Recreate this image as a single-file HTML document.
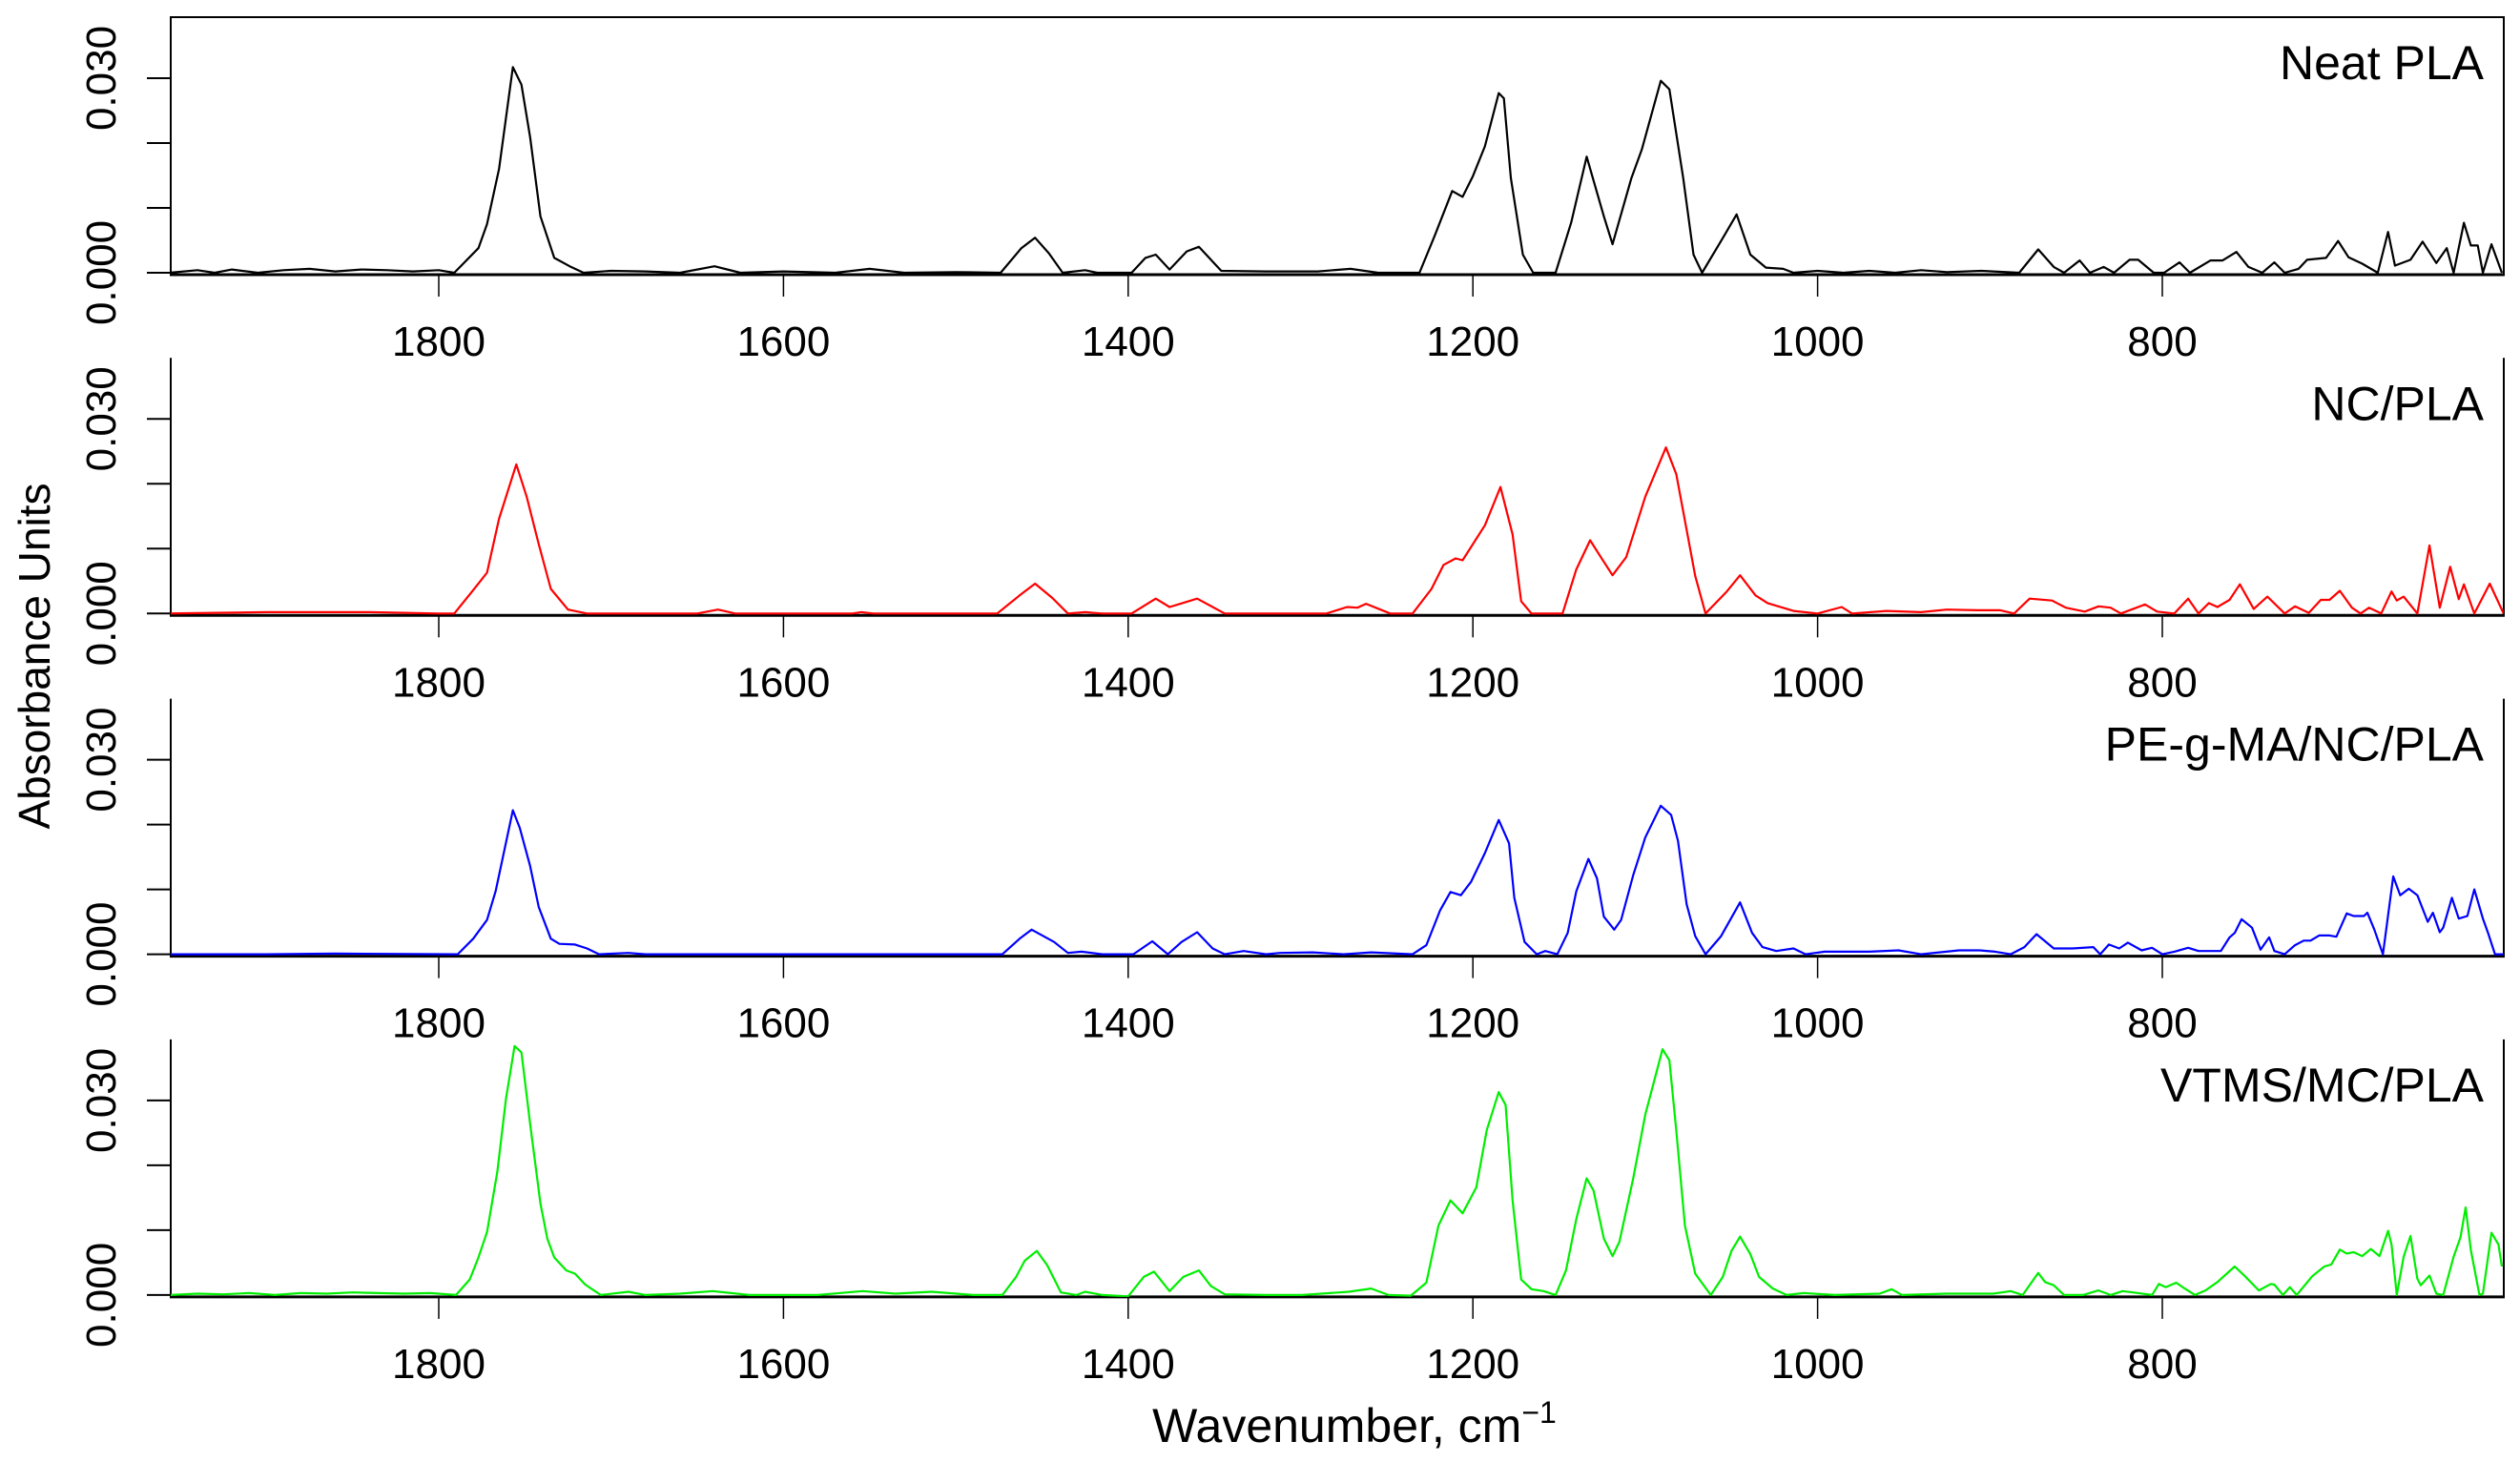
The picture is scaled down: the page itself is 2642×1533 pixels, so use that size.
<!DOCTYPE html>
<html><head><meta charset="utf-8"><style>
html,body{margin:0;padding:0;background:#fff;}
svg{display:block;font-family:"Liberation Sans",Arial,sans-serif;}
</style></head><body>
<svg id="chart" width="2642" height="1533" viewBox="0 0 2642 1533" xmlns="http://www.w3.org/2000/svg">
<rect width="2642" height="1533" fill="#fff"/>
<g id="axes"></g>
<g id="series"></g>
<text transform="translate(52,688) rotate(-90)" text-anchor="middle" font-size="46">Absorbance Units</text>
<text x="1420" y="1512" text-anchor="middle" font-size="50">Wavenumber, cm<tspan font-size="32" dy="-20">−1</tspan></text>
</svg>
<script>
const xTicks = [1800, 1600, 1400, 1200, 1000, 800];
const yTicks = [0, 0.01, 0.02, 0.03];
const yTickLabels = ["0.000", "", "", "0.030"];
const panelTitles = ["Neat PLA", "NC/PLA", "PE-g-MA/NC/PLA", "VTMS/MC/PLA"];
const seriesColors = ["#000000", "#ff0000", "#0000ff", "#00ee00"];

const blackWn = [1956,1940,1930,1920,1905,1890,1875,1860,1845,1830,1815,1800,1791,1777,1772,1765,1757,1752,1747,1741,1733,1724,1716,1700,1680,1660,1640,1625,1600,1570,1550,1530,1500,1474,1462,1454,1446,1438,1425,1418,1398,1390,1384,1376,1366,1359,1346,1320,1290,1271,1255,1231,1222,1212,1206,1200,1193,1185,1182,1178,1171,1165,1152,1143,1134,1124,1119,1108,1102,1091,1086,1078,1072,1067,1054,1047,1039,1030,1020,1014,1000,985,970,955,940,925,905,883,872,863,857,848,842,834,828,819,814,805,799,790,784,772,765,757,750,742,735,729,721,716,705,698,692,684,675,669,665,656,649,641,635,631,625,621,617,614,609,603];
const blackAbs = [0,0.0004,0,0.0005,0,0.0004,0.0006,0.0002,0.0005,0.0004,0.0002,0.0004,0,0.0038,0.0075,0.016,0.0317,0.029,0.0209,0.0087,0.0023,0.001,0,0.0003,0.0002,0,0.001,0,0.0002,0,0.0006,0,0.0001,0,0.0038,0.0054,0.003,0,0.0004,0,0,0.0023,0.0028,0.0005,0.0033,0.004,0.0003,0.0002,0.0002,0.0006,0,0,0.0058,0.0126,0.0117,0.0149,0.0195,0.0277,0.0269,0.0146,0.0028,0,0,0.0077,0.0179,0.0087,0.0044,0.0146,0.019,0.0296,0.0283,0.0146,0.0028,0,0.0058,0.009,0.0028,0.0008,0.0006,0,0.0003,0,0.0003,0,0.0004,0.0001,0.0003,0,0.0036,0.0009,0,0.0019,0,0.0009,0,0.002,0.002,0,0,0.0016,0,0.0019,0.0019,0.0032,0.0009,0,0.0016,0,0.0006,0.002,0.0023,0.0049,0.0024,0.0014,0,0.0063,0.0011,0.002,0.0048,0.0015,0.0038,0,0.0077,0.0042,0.0042,0,0.0044,0];

const redWn = [1956,1900,1860,1840,1800,1791,1780,1772,1765,1755,1749,1742,1735,1725,1714,1650,1638,1628,1560,1555,1548,1476,1463,1454,1444,1435,1425,1415,1398,1384,1376,1360,1344,1285,1273,1267,1262,1248,1235,1224,1217,1210,1206,1193,1184,1177,1172,1166,1148,1140,1132,1127,1119,1111,1100,1088,1082,1071,1065,1053,1045,1036,1029,1014,1000,986,980,960,940,925,907,894,886,877,864,856,845,837,830,824,818,810,803,793,785,779,773,768,761,755,747,739,729,723,715,708,703,697,690,685,680,673,667,664,660,652,645,639,633,628,625,619,610,602];
const redAbs = [0,0.0002,0.0002,0.0002,0,0,0.0036,0.0063,0.0146,0.023,0.018,0.0107,0.0038,0.0006,0,0,0.0006,0,0,0.0002,0,0,0.0028,0.0046,0.0024,0,0.0002,0,0,0.0023,0.001,0.0023,0,0,0.001,0.0009,0.0015,0,0,0.0038,0.0075,0.0085,0.0082,0.0136,0.0195,0.0122,0.0019,0,0,0.0068,0.0113,0.0092,0.0059,0.0087,0.018,0.0256,0.0215,0.0058,0,0.0033,0.0059,0.0028,0.0016,0.0004,0,0.001,0,0.0004,0.0002,0.0006,0.0005,0.0005,0,0.0023,0.002,0.0009,0.0003,0.0011,0.0009,0,0.0006,0.0014,0.0003,0,0.0023,0,0.0016,0.001,0.0021,0.0045,0.0007,0.0026,0,0.0011,0.0001,0.0021,0.0021,0.0035,0.0009,0,0.0009,0,0.0034,0.002,0.0026,0,0.0105,0.0009,0.0072,0.0022,0.0045,0,0.0046,0];

const blueWn = [1956,1900,1860,1789,1780,1772,1767,1757,1753,1747,1742,1735,1730,1721,1714,1707,1690,1680,1473,1463,1456,1443,1435,1427,1415,1397,1386,1377,1369,1360,1351,1344,1333,1320,1312,1293,1275,1259,1235,1227,1219,1213,1207,1201,1193,1185,1179,1176,1170,1163,1158,1151,1145,1140,1133,1128,1124,1118,1114,1107,1100,1091,1085,1081,1076,1071,1065,1056,1045,1038,1032,1024,1014,1007,996,970,953,940,918,906,897,888,880,873,863,852,840,836,831,825,820,812,806,800,793,785,779,766,761,758,754,748,743,738,735,729,723,718,714,709,703,699,693,689,683,681,677,672,666,662,657,652,646,643,639,637,632,628,623,619,614,611,607,602];
const blueAbs = [0,0,0.0001,0,0.0024,0.0053,0.0097,0.0222,0.0195,0.0136,0.0073,0.0024,0.0016,0.0015,0.0009,0,0.0002,0,0,0.0024,0.0038,0.0019,0.0002,0.0004,0,0,0.002,0,0.0019,0.0034,0.0009,0,0.0005,0,0.0002,0.0003,0,0.0003,0,0.0014,0.0068,0.0096,0.0091,0.0112,0.0156,0.0207,0.0171,0.0087,0.0019,0,0.0005,0,0.0033,0.0097,0.0147,0.0117,0.0058,0.0038,0.0053,0.0122,0.018,0.0229,0.0215,0.0175,0.0077,0.0028,0,0.0028,0.008,0.0033,0.0011,0.0005,0.0009,0,0.0004,0.0004,0.0006,0,0.0006,0.0006,0.0004,0,0.0011,0.0031,0.0009,0.0009,0.0011,0,0.0015,0.0009,0.0018,0.0006,0.001,0,0.0004,0.001,0.0005,0.0005,0.0026,0.0033,0.0054,0.0041,0.0007,0.0026,0.0005,0,0.0014,0.0021,0.0021,0.0029,0.0029,0.0027,0.0063,0.0059,0.0059,0.0064,0.0038,0,0.012,0.0091,0.0101,0.0091,0.005,0.0064,0.0034,0.0041,0.0087,0.0055,0.0059,0.01,0.0055,0.0033,0,0];

const greenWn = [1956,1940,1925,1910,1895,1880,1865,1850,1835,1820,1805,1790,1782,1777,1772,1766,1761,1756,1752,1747,1741,1737,1733,1726,1721,1715,1706,1690,1680,1660,1641,1620,1580,1554,1535,1514,1490,1473,1465,1460,1453,1447,1439,1430,1425,1415,1400,1391,1385,1376,1368,1359,1352,1344,1320,1299,1272,1259,1249,1236,1227,1220,1213,1206,1198,1192,1185,1181,1177,1172,1166,1159,1152,1146,1140,1134,1130,1124,1119,1115,1107,1100,1090,1086,1082,1077,1071,1062,1055,1050,1045,1039,1034,1026,1018,1008,990,964,957,951,925,898,888,881,872,868,863,857,846,837,830,823,817,806,802,798,792,787,781,775,768,758,752,744,737,735,730,726,722,713,706,702,697,693,689,684,679,674,669,667,664,660,656,652,650,645,641,637,631,627,624,621,616,614,609,605,603];
const greenAbs = [0,0.0002,0.0001,0.0003,0,0.0003,0.0002,0.0004,0.0003,0.0002,0.0003,0,0.0024,0.0058,0.0097,0.019,0.0303,0.0384,0.0374,0.0264,0.0141,0.0087,0.0058,0.0038,0.0033,0.0016,0,0.0005,0,0.0002,0.0006,0,0,0.0006,0.0002,0.0005,0,0,0.0028,0.0053,0.0068,0.0046,0.0004,0,0.0005,0,-0.0002,0.0028,0.0036,0.0006,0.0028,0.0038,0.0014,0.0001,0,0,0.0005,0.001,0,-0.0001,0.0019,0.0107,0.0146,0.0126,0.0166,0.0254,0.0313,0.0293,0.0146,0.0024,0.0009,0.0006,0,0.0038,0.0117,0.018,0.0161,0.0087,0.006,0.0082,0.018,0.0278,0.0379,0.0362,0.0254,0.0107,0.0033,0,0.0028,0.0068,0.009,0.0063,0.0028,0.001,0,0.0003,0,0.0002,0.0009,0,0.0002,0.0002,0.0006,0,0.0034,0.002,0.0015,0,0,0.0007,0,0.0006,0.0004,0,0.0017,0.0012,0.0019,0.001,0,0.0007,0.002,0.0044,0.0029,0.0007,0.0017,0.0016,0,0.0012,0,0.0029,0.0044,0.0047,0.007,0.0064,0.0066,0.006,0.0071,0.006,0.0099,0.0078,0,0.0059,0.0091,0.0025,0.0015,0.003,0.0002,0,0.0059,0.0089,0.0135,0.0069,0,0.0002,0.0096,0.0078,0.0044];

const allWn = [blackWn, redWn, blueWn, greenWn];
const allAbs = [blackAbs, redAbs, blueAbs, greenAbs];
const seriesNames = ["neat-pla-spectrum", "nc-pla-spectrum", "pe-g-ma-nc-pla-spectrum", "vtms-mc-pla-spectrum"];

const NS = "http://www.w3.org/2000/svg";
const plotLeft = 179, plotRight = 2625;
const xScale = wn => 460 + (1800 - wn) * 1.807;
const zeroY = i => 286 + 357.3 * i;
const yScale = (v, i) => zeroY(i) - v * 6800;

const axes = document.getElementById('axes');
const seriesG = document.getElementById('series');
const defs = document.createElementNS(NS, 'defs');
document.getElementById('chart').appendChild(defs);

function mk(tag, attrs, parent) {
  const e = document.createElementNS(NS, tag);
  for (const k in attrs) e.setAttribute(k, attrs[k]);
  parent.appendChild(e);
  return e;
}

for (let i = 0; i < 4; i++) {
  const top = zeroY(i) - 268, bottom = zeroY(i) + 2;
  const g = mk('g', {}, axes);
  
  
  // box
  const left = mk('line', {x1: plotLeft, y1: top, x2: plotLeft, y2: bottom, stroke: '#000', 'stroke-width': 2}, g);
  
  
  const right = mk('line', {x1: plotRight, y1: top, x2: plotRight, y2: bottom, stroke: '#000', 'stroke-width': 2}, g);
  
  
  const bot = mk('line', {x1: plotLeft - 1, y1: bottom, x2: plotRight + 1, y2: bottom, stroke: '#000', 'stroke-width': 3}, g);
  
  
  if (i === 0) {
    const tp = mk('line', {x1: plotLeft - 1, y1: top, x2: plotRight + 1, y2: top, stroke: '#000', 'stroke-width': 2}, g);
    
    
  }
  // x ticks
  xTicks.forEach(t => {
    const x = xScale(t);
    const tk = mk('line', {x1: x, y1: bottom, x2: x, y2: bottom + 23, stroke: '#000', 'stroke-width': 1.5}, g);
    
    
    const lb = mk('text', {x: x, y: bottom + 85, 'text-anchor': 'middle', 'font-size': 44}, g);
    lb.textContent = String(t);
    
    
  });
  // y ticks
  yTicks.forEach((t, k) => {
    const y = yScale(t, i);
    const tk = mk('line', {x1: plotLeft, y1: y, x2: plotLeft - 25, y2: y, stroke: '#000', 'stroke-width': 2}, g);
    
    
    if (yTickLabels[k]) {
      const lb = mk('text', {transform: 'translate(121,' + y + ') rotate(-90)', 'text-anchor': 'middle', 'font-size': 44}, g);
      lb.textContent = yTickLabels[k];
      
      
    }
  });
  // title
  const tt = mk('text', {x: 2604, y: 83 + 357.3 * i, 'text-anchor': 'end', 'font-size': 50}, g);
  tt.textContent = panelTitles[i];
  
  
  // clip
  const cp = mk('clipPath', {id: 'clip' + i}, defs);
  mk('rect', {x: plotLeft, y: top, width: plotRight - plotLeft, height: bottom - top}, cp);

  // series
  const wn = allWn[i], ab = allAbs[i];
  let d = '';
  for (let j = 0; j < wn.length; j++) {
    d += (j ? 'L' : 'M') + xScale(wn[j]).toFixed(1) + ',' + yScale(ab[j], i).toFixed(1);
  }
  const p = mk('path', {d: d, fill: 'none', stroke: seriesColors[i], 'stroke-width': 2.2, 'stroke-linejoin': 'round', 'clip-path': 'url(#clip' + i + ')'}, seriesG);
  
  
}
</script>
</body></html>
